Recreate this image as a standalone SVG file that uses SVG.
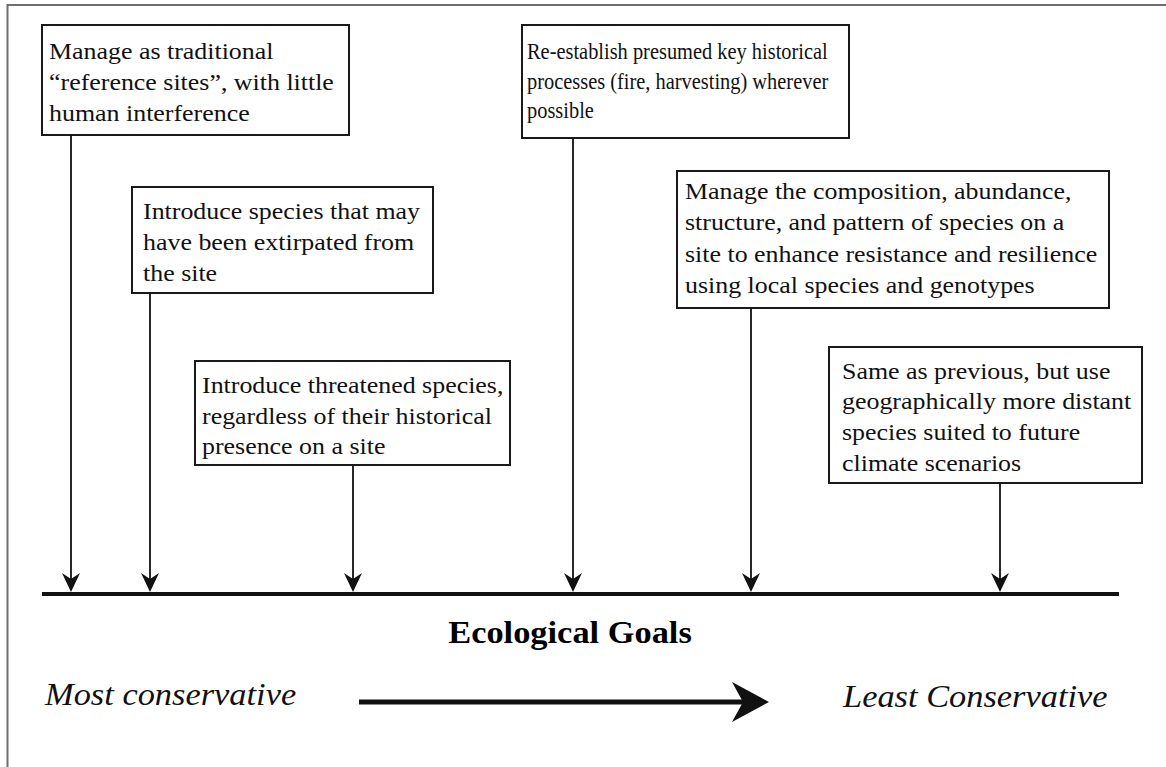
<svg xmlns="http://www.w3.org/2000/svg" width="1166" height="767" viewBox="0 0 1166 767">
  <style>
    .box { fill: #ffffff; stroke: #1a1a1a; stroke-width: 2; }
    .t { font-family: "Liberation Serif", "Times New Roman", serif; font-size: 24px; fill: #111; }
    .cond { font-family: "Liberation Serif", "Times New Roman", serif; font-size: 24px; fill: #111; }
    .it { font-family: "Liberation Serif", "Times New Roman", serif; font-size: 31px; font-style: italic; fill: #111; }
    .bold { font-family: "Liberation Serif", "Times New Roman", serif; font-size: 31px; font-weight: bold; fill: #000; }
    .conn { stroke: #111; stroke-width: 1.8; fill: none; }
    .head { fill: #111; }
    .frame { stroke: #6e6e6e; stroke-width: 2; fill: none; }
  </style>

  <rect x="0" y="0" width="1166" height="767" fill="#ffffff"/>
  <path class="frame" d="M7.5,767 V5 H1166"/>

  <g id="n1">
    <rect class="box" x="42" y="25" width="307" height="110"/>
    <text class="t" transform="translate(49 59) scale(1.08 1)">
      <tspan x="0" y="0">Manage as traditional</tspan>
      <tspan x="0" y="31">“reference sites”, with little</tspan>
      <tspan x="0" y="62">human interference</tspan>
    </text>
  </g>

  <g id="n2">
    <rect class="box" x="522" y="25" width="327" height="113"/>
    <text class="cond" transform="translate(527 59) scale(0.85 1)">
      <tspan x="0" y="0">Re-establish presumed key historical</tspan>
      <tspan x="0" y="30">processes (fire, harvesting) wherever</tspan>
      <tspan x="0" y="59">possible</tspan>
    </text>
  </g>

  <g id="n3">
    <rect class="box" x="132" y="187" width="301" height="106"/>
    <text class="t" transform="translate(143 219) scale(1.08 1)">
      <tspan x="0" y="0">Introduce species that may</tspan>
      <tspan x="0" y="31">have been extirpated from</tspan>
      <tspan x="0" y="62">the site</tspan>
    </text>
  </g>

  <g id="n4">
    <rect class="box" x="677" y="171" width="432" height="137"/>
    <text class="t" transform="translate(685 199) scale(1.08 1)">
      <tspan x="0" y="0">Manage the composition, abundance,</tspan>
      <tspan x="0" y="31.5">structure, and pattern of species on a</tspan>
      <tspan x="0" y="63">site to enhance resistance and resilience</tspan>
      <tspan x="0" y="94">using local species and genotypes</tspan>
    </text>
  </g>

  <g id="n5">
    <rect class="box" x="195" y="361" width="315" height="104"/>
    <text class="t" transform="translate(202 393) scale(1.08 1)">
      <tspan x="0" y="0">Introduce threatened species,</tspan>
      <tspan x="0" y="31">regardless of their historical</tspan>
      <tspan x="0" y="61">presence on a site</tspan>
    </text>
  </g>

  <g id="n6">
    <rect class="box" x="829" y="347" width="313" height="136"/>
    <text class="t" transform="translate(842 379) scale(1.08 1)">
      <tspan x="0" y="0">Same as previous, but use</tspan>
      <tspan x="0" y="30.5">geographically more distant</tspan>
      <tspan x="0" y="61">species suited to future</tspan>
      <tspan x="0" y="92">climate scenarios</tspan>
    </text>
  </g>

  <g id="connectors">
    <line class="conn" x1="71" y1="135" x2="71" y2="580"/>
    <polygon class="head" points="71,592 62,573 71,579 80,573"/>
    <line class="conn" x1="150" y1="293" x2="150" y2="580"/>
    <polygon class="head" points="150,592 141,573 150,579 159,573"/>
    <line class="conn" x1="353" y1="465" x2="353" y2="580"/>
    <polygon class="head" points="353,592 344,573 353,579 362,573"/>
    <line class="conn" x1="573" y1="138" x2="573" y2="580"/>
    <polygon class="head" points="573,592 564,573 573,579 582,573"/>
    <line class="conn" x1="751" y1="308" x2="751" y2="580"/>
    <polygon class="head" points="751,592 742,573 751,579 760,573"/>
    <line class="conn" x1="1000" y1="483" x2="1000" y2="580"/>
    <polygon class="head" points="1000,592 991,573 1000,579 1009,573"/>
  </g>

  <g id="axis">
    <line x1="42" y1="594" x2="1119" y2="594" stroke="#111" stroke-width="4"/>
    <text class="bold" text-anchor="middle" transform="translate(570 643) scale(1.11 1)">Ecological Goals</text>
  </g>

  <g id="scale">
    <text class="it" transform="translate(45 705) scale(1.11 1)">Most conservative</text>
    <line x1="359" y1="702" x2="745" y2="702" stroke="#111" stroke-width="5"/>
    <polygon class="head" points="769,702 732,682 743,702 732,722"/>
    <text class="it" transform="translate(843 707) scale(1.11 1)">Least Conservative</text>
  </g>
</svg>
